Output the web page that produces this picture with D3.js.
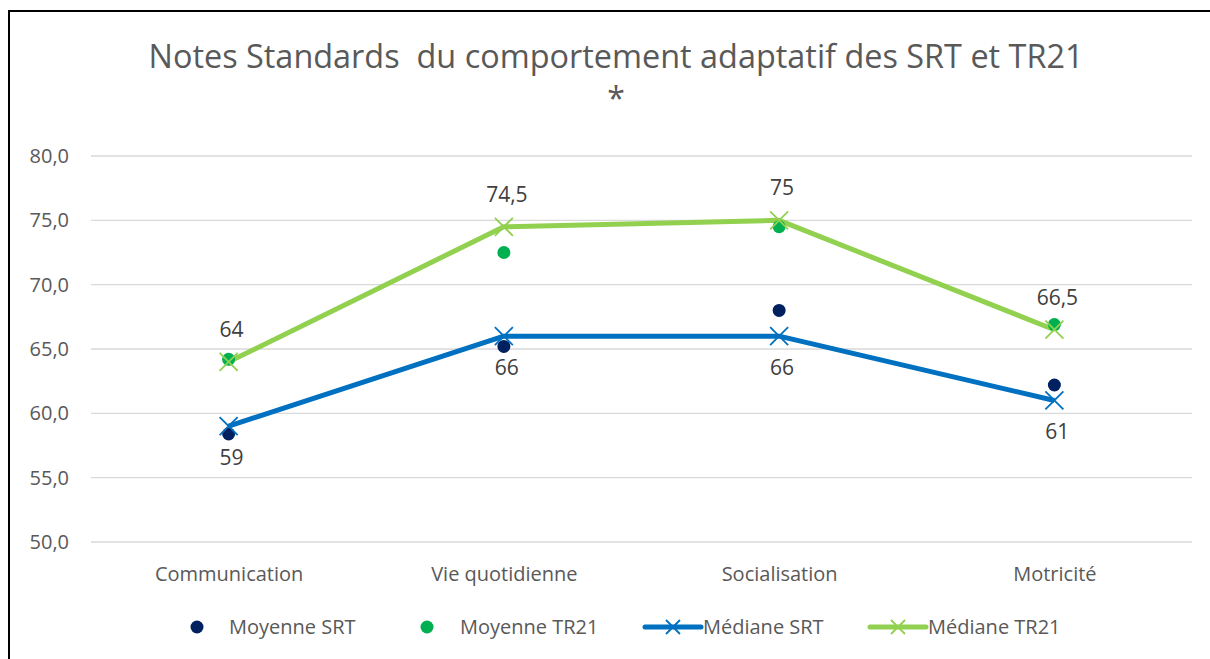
<!DOCTYPE html>
<html>
<head>
<meta charset="utf-8">
<script src="https://cdn.jsdelivr.net/npm/d3@7"></script>
<style>
  body { margin: 0; background: #fff; }
  text { font-family: "Open Sans", "Noto Sans", sans-serif; fill: #595959; white-space: pre; }
</style>
</head>
<body>
<div id="chart"></div>
<script>
// data
var categories = ["Communication", "Vie quotidienne", "Socialisation", "Motricité"];
var moyenneSRT = [58.4, 65.2, 68.0, 62.2];
var moyenneTR21 = [64.2, 72.5, 74.5, 66.9];
var medianeSRT = [59, 66, 66, 61];
var medianeTR21 = [64, 74.5, 75, 66.5];
var yTicks = [50, 55, 60, 65, 70, 75, 80];

var W = 1210, H = 659;
var margin = {left: 91, right: 18, top: 156, bottom: 117};

var svg = d3.select("#chart").append("svg")
  .attr("width", W).attr("height", H);

// frame
svg.append("path")
  .attr("d", "M9," + H + "V11H" + W)
  .attr("fill", "none").attr("stroke", "#000").attr("stroke-width", 2);

var x = d3.scalePoint().domain(categories)
  .range([margin.left, W - margin.right]).padding(0.5);
var y = d3.scaleLinear().domain([50, 80])
  .range([H - margin.bottom, margin.top]);

var fmt = function(v) { return d3.format(".1f")(v).replace(".", ","); };
var fmtLab = function(v) { return String(v).replace(".", ","); };

// grid
svg.append("g").selectAll("line").data(yTicks).enter().append("line")
  .attr("x1", margin.left).attr("x2", W - margin.right)
  .attr("y1", function(d) { return y(d); }).attr("y2", function(d) { return y(d); })
  .attr("stroke", "#d9d9d9").attr("stroke-width", 1.3);

// y axis labels
var yAxis = svg.append("g")
  .attr("transform", "translate(" + (margin.left - 22) + ",0)")
  .call(d3.axisLeft(y).tickValues(yTicks).tickFormat(fmt).tickSize(0).tickPadding(0));
yAxis.select(".domain").remove();
yAxis.selectAll("text").attr("font-size", 20).style("font-family", "\"Open Sans\", sans-serif").attr("fill", "#595959");

// x axis labels
var xAxis = svg.append("g")
  .attr("transform", "translate(0," + (H - margin.bottom + 25) + ")")
  .call(d3.axisBottom(x).tickSize(0).tickPadding(0));
xAxis.select(".domain").remove();
xAxis.selectAll("text").attr("font-size", 20).style("font-family", "\"Open Sans\", sans-serif").attr("fill", "#595959");

// title
svg.append("text").attr("x", 616).attr("y", 68).attr("text-anchor", "middle")
  .attr("font-size", 32).attr("textLength", 935).attr("lengthAdjust", "spacingAndGlyphs")
  .text("Notes Standards  du comportement adaptatif des SRT et TR21");
svg.append("text").attr("x", 616).attr("y", 110).attr("text-anchor", "middle")
  .attr("font-size", 32).text("*");

function cross(g, cx, cy, color, s) {
  g.append("path")
    .attr("d", "M" + (cx - s) + "," + (cy - s) + "L" + (cx + s) + "," + (cy + s) +
               "M" + (cx - s) + "," + (cy + s) + "L" + (cx + s) + "," + (cy - s))
    .attr("stroke", color).attr("stroke-width", 1.8).attr("fill", "none");
}

var line = d3.line()
  .x(function(d, i) { return x(categories[i]); })
  .y(function(d) { return y(d); });

var series = [
  {vals: medianeSRT, color: "#0070c0", labelDy: 39},
  {vals: medianeTR21, color: "#92d050", labelDy: -25}
];

series.forEach(function(s) {
  svg.append("path").datum(s.vals).attr("d", line)
    .attr("fill", "none").attr("stroke", s.color).attr("stroke-width", 5)
    .attr("stroke-linejoin", "round");
});

var dotSets = [
  {vals: moyenneSRT, color: "#002060"},
  {vals: moyenneTR21, color: "#00b050"}
];
dotSets.forEach(function(s) {
  svg.append("g").selectAll("circle").data(s.vals).enter().append("circle")
    .attr("cx", function(d, i) { return x(categories[i]); })
    .attr("cy", function(d) { return y(d); })
    .attr("r", 6.5).attr("fill", s.color);
});

series.forEach(function(s) {
  var g = svg.append("g");
  s.vals.forEach(function(v, i) { cross(g, x(categories[i]), y(v), s.color, 9); });
  g.selectAll("text").data(s.vals).enter().append("text")
    .attr("x", function(d, i) { return x(categories[i]) + 3; })
    .attr("y", function(d) { return y(d) + s.labelDy; })
    .attr("text-anchor", "middle").attr("font-size", 21)
    .style("fill", "#404040")
    .text(function(d) { return fmtLab(d); });
});

// legend
var legY = 627;
var leg = svg.append("g");
leg.append("circle").attr("cx", 197).attr("cy", legY).attr("r", 6.5).attr("fill", "#002060");
leg.append("text").attr("x", 229).attr("y", legY + 7).attr("font-size", 20).text("Moyenne SRT");
leg.append("circle").attr("cx", 427).attr("cy", legY).attr("r", 6.5).attr("fill", "#00b050");
leg.append("text").attr("x", 460).attr("y", legY + 7).attr("font-size", 20).text("Moyenne TR21");
[{x0: 645, color: "#0070c0", label: "Médiane SRT"},
 {x0: 870, color: "#92d050", label: "Médiane TR21"}].forEach(function(l) {
  leg.append("line").attr("x1", l.x0).attr("x2", l.x0 + 56).attr("y1", legY).attr("y2", legY)
    .attr("stroke", l.color).attr("stroke-width", 5).attr("stroke-linecap", "round");
  cross(leg, l.x0 + 28, legY, l.color, 7);
  leg.append("text").attr("x", l.x0 + 58).attr("y", legY + 7).attr("font-size", 20).text(l.label);
});
</script>
</body>
</html>
